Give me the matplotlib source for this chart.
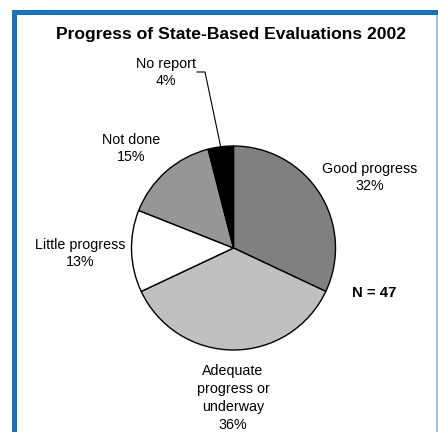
import numpy as np
import matplotlib
matplotlib.use('Agg')
import matplotlib.pyplot as plt
from matplotlib.patches import Rectangle

plt.rcParams['font.family'] = ['Liberation Sans', 'DejaVu Sans']

# ── data ──────────────────────────────────────────────────────────────────────
categories = ["Good progress", "Adequate\nprogress or\nunderway", "Little progress",
              "Not done", "No report"]
shares = [32, 36, 13, 15, 4]
colors = ['#808080', '#c0c0c0', '#ffffff', '#969696', '#000000']
n_states = 47

# label anchor points (pixel coords, y from top)
label_pos = [(370, 177.5), (233, 398), (80, 253.5), (131, 148.5), (166, 72.5)]

W, H = 439, 432
fig = plt.figure(figsize=(W / 100, H / 100), dpi=100)
ax = fig.add_axes([0, 0, 1, 1])

# frame
ax.add_patch(Rectangle((12, 0), 5, H - 10, color='#1a72bb', lw=0))
ax.add_patch(Rectangle((12, H - 15), W - 12, 5, color='#1a72bb', lw=0))
ax.add_patch(Rectangle((436.5, 0), 1.5, H - 15, color='#8fc8ea', lw=0))

cx, cy, r = 233.5, H - 248, 102
wedges, _ = ax.pie(shares, colors=colors, startangle=90, counterclock=False,
                   center=(cx, cy), radius=r, frame=True,
                   wedgeprops=dict(edgecolor='black', linewidth=1.0))
ax.set_xlim(0, W)
ax.set_ylim(0, H)
ax.axis('off')

for name, pct, (px, py) in zip(categories, shares, label_pos):
    ax.text(px, H - py, f"{name}\n{pct}%", ha='center', va='center',
            fontsize=10.3, linespacing=1.34)

# leader line for the small slice
w = wedges[-1]
mid = np.deg2rad((w.theta1 + w.theta2) / 2)
ex, ey = cx + r * np.cos(mid), cy + r * np.sin(mid)
ax.plot([197, 205, ex], [H - 72, H - 72, ey], color='black', lw=0.8)

ax.text(374, H - 293, f"N = {n_states}", ha='center', va='center',
        fontsize=10.8, fontweight='bold')
ax.text(231.5, H - 35, "Progress of State-Based Evaluations 2002", ha='center',
        va='center', fontsize=12.6, fontweight='bold')

fig.savefig('out.png', dpi=100)
